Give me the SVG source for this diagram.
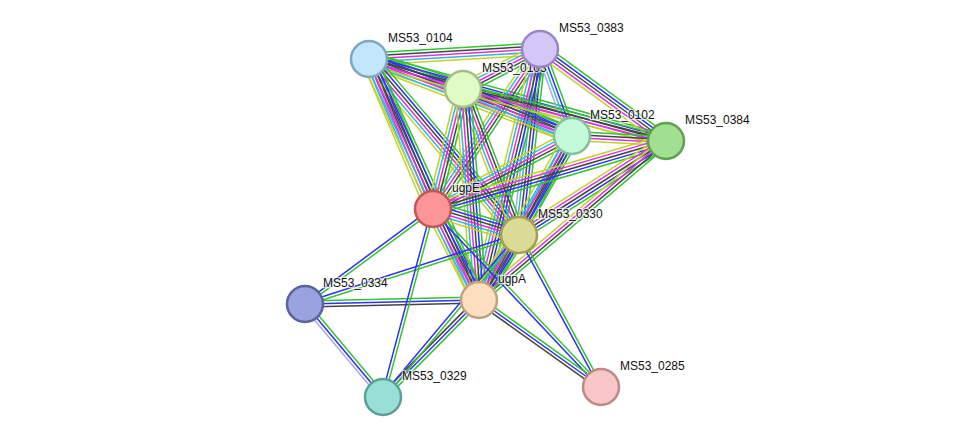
<svg xmlns="http://www.w3.org/2000/svg" xmlns:xlink="http://www.w3.org/1999/xlink" width="976" height="443" viewBox="0 0 976 443">
<style>
.e path{fill:none;stroke-width:1.5;vector-effect:non-scaling-stroke}
.g{stroke:#33c433}.b{stroke:#3030f0}.k{stroke:#454545}.m{stroke:#dd33dd}.c{stroke:#35b5dc}.y{stroke:#c3d22c}.l{stroke:#a9a9f2}
.n circle{stroke-width:2.5}
.n text{font-family:"Liberation Sans",Arial,sans-serif;font-size:12px;fill:#111;stroke:#fff;stroke-width:2.5;stroke-opacity:0.7;paint-order:stroke}
</style>
<defs>
<g id="s6" class="e"><path class="g" d="M0-7.5H1"/><path class="b" d="M0-4.5H1"/><path class="k" d="M0-1.5H1"/><path class="m" d="M0 1.5H1"/><path class="c" d="M0 4.5H1"/><path class="y" d="M0 7.5H1"/></g>
<g id="s5a" class="e"><path class="g" d="M0-6H1"/><path class="k" d="M0-3H1"/><path class="m" d="M0 0H1"/><path class="c" d="M0 3H1"/><path class="y" d="M0 6H1"/></g>
<g id="s5b" class="e"><path class="g" d="M0-6H1"/><path class="b" d="M0-3H1"/><path class="k" d="M0 0H1"/><path class="m" d="M0 3H1"/><path class="y" d="M0 6H1"/></g>
<g id="s5c" class="e"><path class="g" d="M0-6H1"/><path class="b" d="M0-3H1"/><path class="k" d="M0 0H1"/><path class="c" d="M0 3H1"/><path class="l" d="M0 6H1"/></g>
<g id="s4a" class="e"><path class="g" d="M0-4.5H1"/><path class="k" d="M0-1.5H1"/><path class="m" d="M0 1.5H1"/><path class="y" d="M0 4.5H1"/></g>
<g id="s4b" class="e"><path class="g" d="M0-4.5H1"/><path class="b" d="M0-1.5H1"/><path class="c" d="M0 1.5H1"/><path class="l" d="M0 4.5H1"/></g>
<g id="s4c" class="e"><path class="g" d="M0-4.5H1"/><path class="b" d="M0-1.5H1"/><path class="k" d="M0 1.5H1"/><path class="c" d="M0 4.5H1"/></g>
<g id="s3" class="e"><path class="g" d="M0-3H1"/><path class="b" d="M0 0H1"/><path class="k" d="M0 3H1"/></g>
<g id="s3l" class="e"><path class="g" d="M0-3H1"/><path class="b" d="M0 0H1"/><path class="l" d="M0 3H1"/></g>
<g id="s2" class="e"><path class="g" d="M0-1.5H1"/><path class="b" d="M0 1.5H1"/></g>
</defs>
<rect width="976" height="443" fill="#fff"/>
<g id="edges">
<use href="#s5a" transform="matrix(171 -10 0.058 0.998 369 59)"/>
<use href="#s6" transform="matrix(94 30 -0.304 0.952 369 59)"/>
<use href="#s6" transform="matrix(203 77 -0.355 0.935 369 59)"/>
<use href="#s5b" transform="matrix(297 82 -0.266 0.964 369 59)"/>
<use href="#s6" transform="matrix(64 150 -0.920 0.392 369 59)"/>
<use href="#s6" transform="matrix(150 176 -0.761 0.649 369 59)"/>
<use href="#s6" transform="matrix(110 241 -0.910 0.415 369 59)"/>
<use href="#s5a" transform="matrix(-77 40 -0.461 -0.887 540 49)"/>
<use href="#s4b" transform="matrix(32 87 -0.939 0.345 540 49)"/>
<use href="#s5b" transform="matrix(126 92 -0.590 0.808 540 49)"/>
<use href="#s5a" transform="matrix(-107 160 -0.831 -0.556 540 49)"/>
<use href="#s5c" transform="matrix(-21 186 -0.994 -0.112 540 49)"/>
<use href="#s6" transform="matrix(-61 251 -0.972 -0.236 540 49)"/>
<use href="#s6" transform="matrix(109 47 -0.396 0.918 463 89)"/>
<use href="#s4a" transform="matrix(203 52 -0.248 0.969 463 89)"/>
<use href="#s5a" transform="matrix(-30 120 -0.970 -0.243 463 89)"/>
<use href="#s5a" transform="matrix(56 146 -0.934 0.358 463 89)"/>
<use href="#s6" transform="matrix(16 211 -0.997 0.076 463 89)"/>
<use href="#s4a" transform="matrix(94 5 -0.053 0.999 572 136)"/>
<use href="#s5a" transform="matrix(-139 73 -0.465 -0.885 572 136)"/>
<use href="#s4c" transform="matrix(-53 99 -0.882 -0.472 572 136)"/>
<use href="#s6" transform="matrix(-93 164 -0.870 -0.493 572 136)"/>
<use href="#s5b" transform="matrix(-233 68 -0.280 -0.960 666 141)"/>
<use href="#s5b" transform="matrix(-147 94 -0.539 -0.842 666 141)"/>
<use href="#s4a" transform="matrix(-187 159 -0.648 -0.762 666 141)"/>
<use href="#s6" transform="matrix(86 26 -0.290 0.958 433 209)"/>
<use href="#s6" transform="matrix(46 91 -0.892 0.451 433 209)"/>
<use href="#s6" transform="matrix(-40 65 -0.852 -0.524 519 235)"/>
<use href="#s2" transform="matrix(-128 95 -0.596 -0.803 433 209)"/>
<use href="#s2" transform="matrix(-214 69 -0.307 -0.952 519 235)"/>
<use href="#s3" transform="matrix(174 -4 0.023 1.000 305 304)"/>
<use href="#s3l" transform="matrix(78 93 -0.766 0.643 305 304)"/>
<use href="#s2" transform="matrix(-50 188 -0.967 -0.257 433 209)"/>
<use href="#s3" transform="matrix(-96 97 -0.711 -0.703 479 300)"/>
<use href="#s2" transform="matrix(-136 162 -0.766 -0.643 519 235)"/>
<use href="#s2" transform="matrix(168 178 -0.727 0.686 433 209)"/>
<use href="#s2" transform="matrix(82 152 -0.880 0.475 519 235)"/>
<use href="#s3" transform="matrix(122 87 -0.581 0.814 479 300)"/>
</g>
<g id="MS53_0104" class="n"><circle cx="369" cy="59" r="18" fill="#c2e6fb" stroke="#7fa6c2"/><text x="388" y="42">MS53_0104</text></g>
<g id="MS53_0103" class="n"><circle cx="463" cy="89" r="18" fill="#e0fcc4" stroke="#a3bf85"/><text x="482" y="72">MS53_0103</text></g>
<g id="MS53_0383" class="n"><circle cx="540" cy="49" r="18" fill="#d5c8f8" stroke="#9a86c8"/><text x="559" y="32">MS53_0383</text></g>
<g id="MS53_0102" class="n"><circle cx="572" cy="136" r="18" fill="#c4fad9" stroke="#80c19c"/><text x="590" y="119">MS53_0102</text></g>
<g id="MS53_0384" class="n"><circle cx="666" cy="141" r="18" fill="#a0e090" stroke="#5ea052"/><text x="685" y="124">MS53_0384</text></g>
<g id="ugpE" class="n"><circle cx="433" cy="209" r="18" fill="#fc9696" stroke="#c05656"/><text x="452" y="192">ugpE</text></g>
<g id="MS53_0330" class="n"><circle cx="519" cy="235" r="18" fill="#dcdb96" stroke="#a3a050"/><text x="538" y="218">MS53_0330</text></g>
<g id="MS53_0334" class="n"><circle cx="305" cy="304" r="18" fill="#9aa2e0" stroke="#5a63a0"/><text x="323" y="287">MS53_0334</text></g>
<g id="ugpA" class="n"><circle cx="479" cy="300" r="18" fill="#fddfc0" stroke="#c0a283"/><text x="498" y="283">ugpA</text></g>
<g id="MS53_0329" class="n"><circle cx="383" cy="397" r="18" fill="#98e0d6" stroke="#5ea098"/><text x="402" y="380">MS53_0329</text></g>
<g id="MS53_0285" class="n"><circle cx="601" cy="387" r="18" fill="#f8c6c6" stroke="#c08888"/><text x="620" y="370">MS53_0285</text></g>
</svg>
